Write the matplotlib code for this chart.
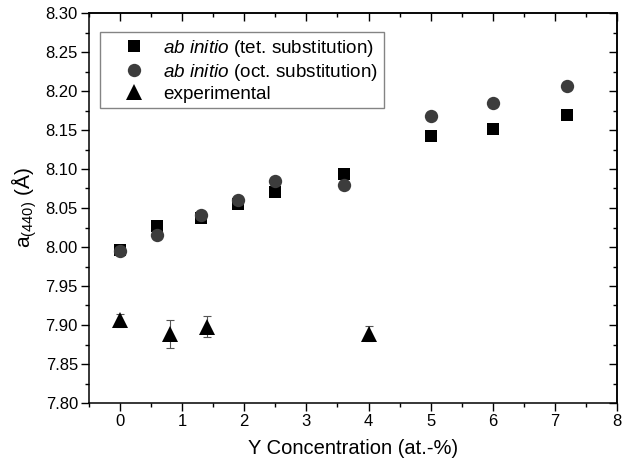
import matplotlib
matplotlib.use("Agg")
import matplotlib.pyplot as plt
from matplotlib.ticker import MultipleLocator, FormatStrFormatter

plt.rcParams['font.family'] = ['Liberation Sans', 'DejaVu Sans']
plt.rcParams['mathtext.fontset'] = 'custom'
plt.rcParams['mathtext.rm'] = 'Liberation Sans'
plt.rcParams['mathtext.it'] = 'Liberation Sans:italic'
plt.rcParams['mathtext.default'] = 'regular'

# Data
tet_x = [0, 0.6, 1.3, 1.9, 2.5, 3.6, 5.0, 6.0, 7.2]
tet_y = [7.996, 8.027, 8.037, 8.055, 8.070, 8.093, 8.142, 8.151, 8.169]
oct_x = [0, 0.6, 1.3, 1.9, 2.5, 3.6, 5.0, 6.0, 7.2]
oct_y = [7.995, 8.015, 8.041, 8.060, 8.084, 8.079, 8.168, 8.185, 8.207]
exp_x = [0, 0.8, 1.4, 4.0]
exp_y = [7.906, 7.889, 7.898, 7.889]
exp_err = [0.008, 0.018, 0.014, 0.010]

x_ticks = [0, 1, 2, 3, 4, 5, 6, 7, 8]
y_ticks = [7.80, 7.85, 7.90, 7.95, 8.00, 8.05, 8.10, 8.15, 8.20, 8.25, 8.30]

fig = plt.figure(figsize=(6.23, 4.71), dpi=100)
ax = fig.add_axes([89/623, 68/471, 528/623, 390/471])

ax.errorbar(exp_x, exp_y, yerr=exp_err, fmt='none', ecolor='#555555',
            elinewidth=0.8, capsize=3, capthick=0.8, zorder=2)
ax.plot(tet_x, tet_y, 's', color='black', ms=8.8, mec='black', mew=0,
        label=r'$\it{ab\ initio}$ (tet. substitution)', zorder=3)
ax.plot(oct_x, oct_y, 'o', color='#3c3c3c', ms=9.6, mew=0,
        label=r'$\it{ab\ initio}$ (oct. substitution)', zorder=4)
ax.plot(exp_x, exp_y, '^', color='black', ms=11.5, mew=0,
        label='experimental', zorder=3)

ax.set_xlim(-0.5, 8)
ax.set_ylim(7.80, 8.30)
ax.set_xticks(x_ticks)
ax.set_yticks(y_ticks)
ax.yaxis.set_major_formatter(FormatStrFormatter('%.2f'))
ax.xaxis.set_minor_locator(MultipleLocator(0.5))
ax.yaxis.set_minor_locator(MultipleLocator(0.025))

ax.tick_params(which='major', direction='out', length=6, width=1.0,
               labelsize=12, colors='black', pad=2)
ax.tick_params(which='minor', direction='out', length=3, width=1.0)
for s in ax.spines.values():
    s.set_linewidth(1.1)

secx = ax.secondary_xaxis('top')
secx.set_xticks(x_ticks)
secx.xaxis.set_minor_locator(MultipleLocator(0.5))
secx.tick_params(which='major', direction='in', length=6, width=1.0, labeltop=False)
secx.tick_params(which='minor', direction='in', length=3, width=1.0)
secx.spines['top'].set_linewidth(1.1)

secy = ax.secondary_yaxis('right')
secy.set_yticks(y_ticks)
secy.yaxis.set_minor_locator(MultipleLocator(0.025))
secy.tick_params(which='major', direction='in', length=6, width=1.0, labelright=False)
secy.tick_params(which='minor', direction='in', length=3, width=1.0)
secy.spines['right'].set_linewidth(1.1)

ax.set_xlabel('Y Concentration (at.-%)', fontsize=14.5, labelpad=7)
ax.set_ylabel(r'a$_{(440)}$ (Å)', fontsize=15, labelpad=5)

leg = ax.legend(loc='upper left', bbox_to_anchor=(0.021, 0.951), fontsize=13.6,
                frameon=True, fancybox=False, edgecolor='#666666',
                handlelength=3.0, handletextpad=0.05, borderpad=0.3,
                labelspacing=0.15, borderaxespad=0)
leg.get_frame().set_linewidth(1.0)

fig.savefig('out.png', dpi=100)
